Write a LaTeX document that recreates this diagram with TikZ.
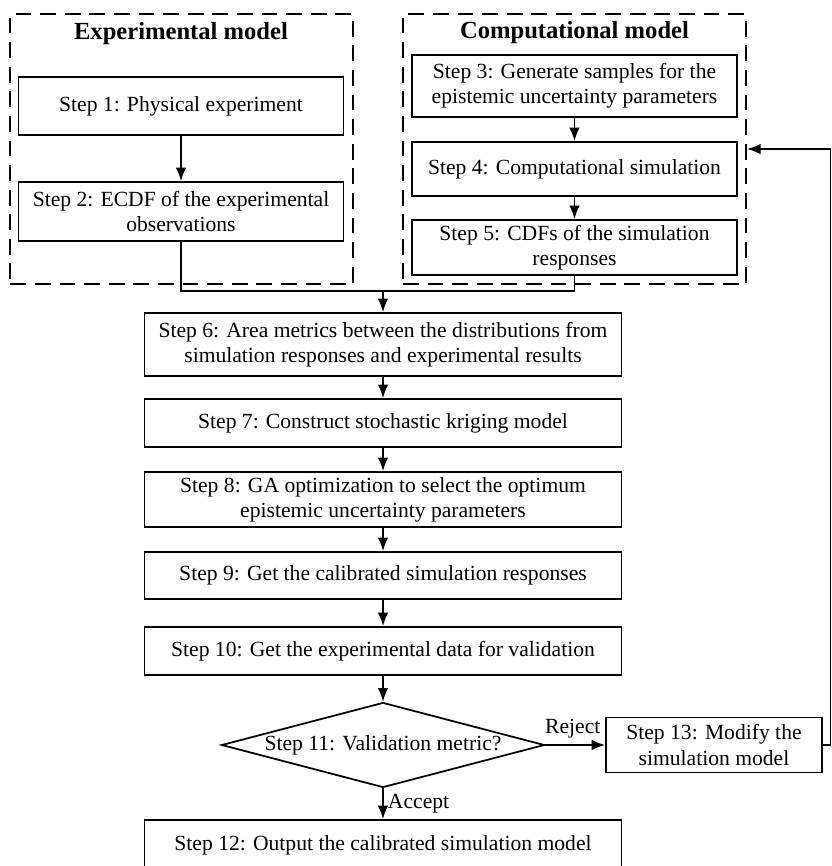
\documentclass[tikz,border=0pt]{standalone}
\usepackage{fontspec}
\setmainfont{Liberation Serif}
\usetikzlibrary{shapes.geometric,arrows.meta}

\begin{document}
\begin{tikzpicture}[x=0.02cm, y=-0.02cm, line width=1pt, >={Latex[length=2.7mm,width=2.1mm]},
	main/.style = {draw, rectangle, align=center, font=\fontsize{12.3}{14.4}\selectfont, inner sep=2pt},
	wide/.style = {main, minimum width=9.54cm},
	side/.style = {main, minimum width=6.5cm},
	frame/.style = {draw, dashed, line width=1.2pt, dash pattern=on 9pt off 5pt, minimum width=6.86cm, minimum height=5.4cm},
	title/.style = {font=\fontsize{14}{16}\selectfont\bfseries},
	lbl/.style = {font=\fontsize{12.3}{14.4}\selectfont}]

	\useasboundingbox (0,0) rectangle (832,866);

	\node[frame] (expbox) at (181.8,149) {};
	\node[frame] (compbox) at (574.5,149) {};
	\node[title] (exptitle) at (181,34) {Experimental model};
	\node[title] (comptitle) at (574.5,33) {Computational model};

	\node[side, minimum height=1.16cm] (S1) at (181,106) {Step 1: Physical experiment};
	\node[side, minimum height=1.18cm] (S2) at (181,211.5) {Step 2: ECDF of the experimental\\observations};
	\node[side, minimum height=1.24cm] (S3) at (574.5,86) {Step 3: Generate samples for the\\epistemic uncertainty parameters};
	\node[side, minimum height=1.08cm] (S4) at (574.5,169) {Step 4: Computational simulation};
	\node[side, minimum height=1.1cm] (S5) at (574.5,247.5) {Step 5: CDFs of the simulation\\responses};

	\node[wide, minimum height=1.26cm] (S6) at (383,344.5) {Step 6: Area metrics between the distributions from\\simulation responses and experimental results};
	\node[wide, minimum height=0.96cm] (S7) at (383,423) {Step 7: Construct stochastic kriging model};
	\node[wide, minimum height=1.1cm] (S8) at (383,499.5) {Step 8: GA optimization to select the optimum\\epistemic uncertainty parameters};
	\node[wide, minimum height=0.94cm] (S9) at (383,575.5) {Step 9: Get the calibrated simulation responses};
	\node[wide, minimum height=0.96cm] (S10) at (383,651) {Step 10: Get the experimental data for validation};
	\node[draw, diamond, aspect=3.8, inner sep=0pt, minimum width=6.46cm, minimum height=1.7cm, font=\fontsize{12.3}{14.4}\selectfont] (S11) at (383,745) {Step 11: Validation metric?};
	\node[wide, minimum height=1.0cm] (S12) at (383,845) {Step 12: Output the calibrated simulation model};
	\node[main, minimum width=4.32cm, minimum height=1.1cm] (S13) at (714,745) {Step 13: Modify the\\simulation model};

	\coordinate (join) at (383,291);
	\coordinate (back) at (830.5,745);

	\draw[->] (S1) -- (S2);
	\draw[->] (S3) -- (S4);
	\draw[->] (S4) -- (S5);
	\draw (S2.south) |- (join) -| (S5.south);
	\draw[->] (join) -- (S6);
	\draw[->] (S6) -- (S7);
	\draw[->] (S7) -- (S8);
	\draw[->] (S8) -- (S9);
	\draw[->] (S9) -- (S10);
	\draw[->] (S10) -- (S11);
	\draw[->] (S11) -- node[lbl, right, xshift=-1pt] {Accept} (S12);
	\draw[->] (S11) -- node[lbl, above, xshift=-0.5mm] {Reject} (S13);
	\draw (S13.east) -- (back);
	\draw[->] (back) |- (compbox.east);
\end{tikzpicture}
\end{document}
